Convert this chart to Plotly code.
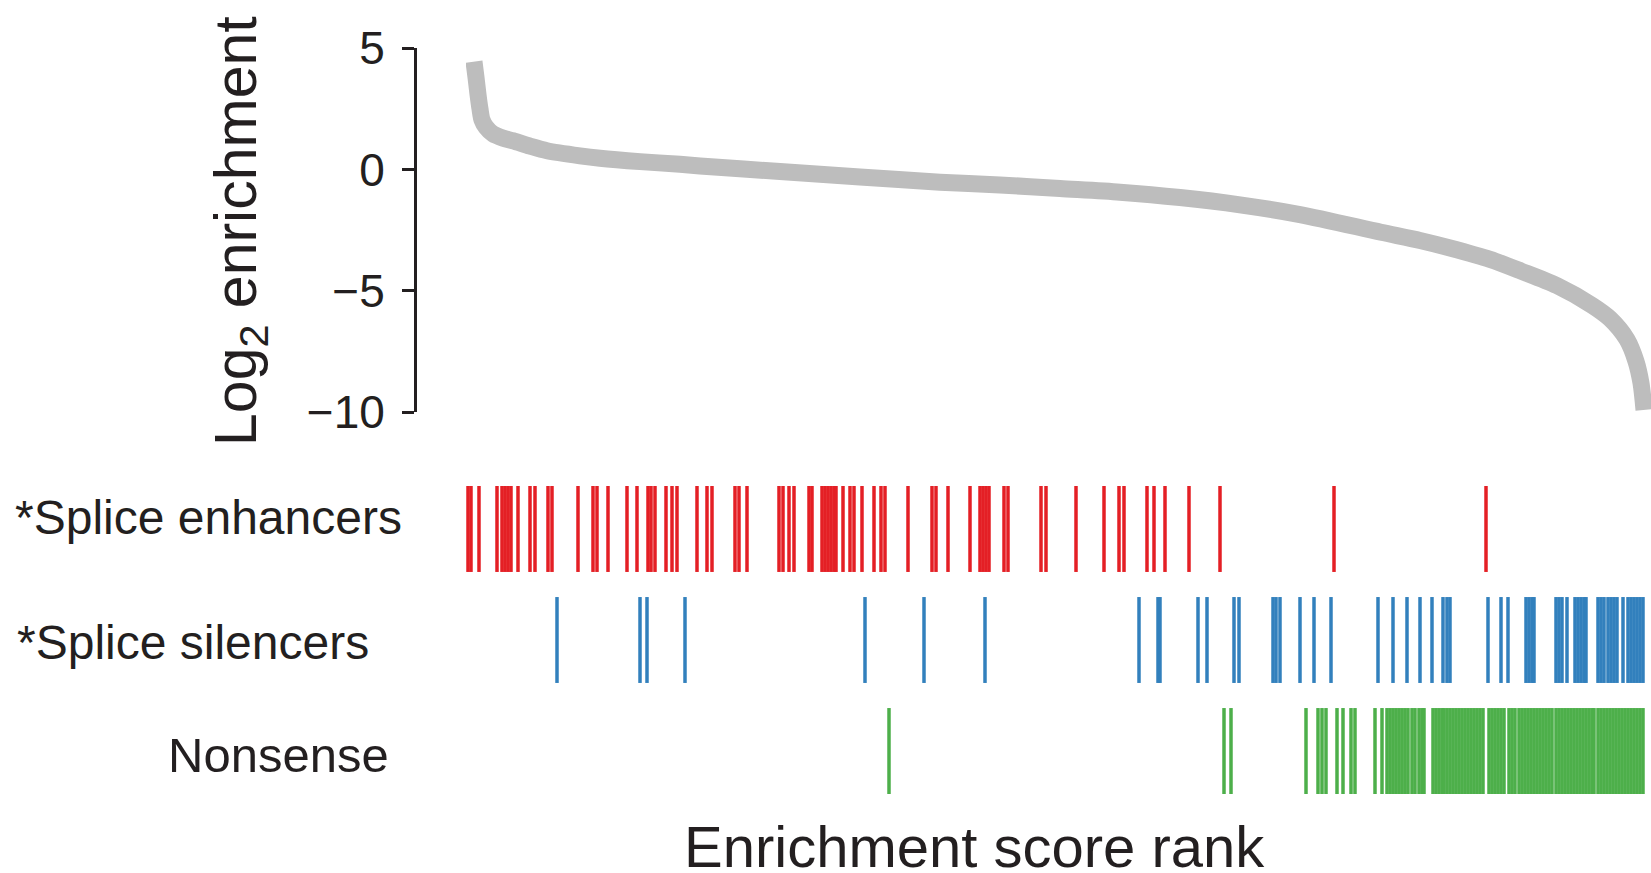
import plotly.graph_objects as go

W, H = 1651, 873
INK = "#231f20"
FONT = "Liberation Sans, Arial, Helvetica, sans-serif"

# Ranked log2 enrichment curve (rank, value)
curve_rank = [16, 20, 24, 28, 32, 40, 54, 74, 94, 128, 162, 228, 268, 348, 428,
              468, 628, 788, 948, 1068, 1188, 1308, 1428, 1548, 1668, 1830, 1908,
              1970, 2048, 2110, 2182, 2252, 2288, 2322, 2340, 2350, 2356]
curve_log2 = [4.45, 3.8, 3.1, 2.5, 2.05, 1.75, 1.47, 1.3, 1.19, 0.97, 0.78, 0.57,
              0.47, 0.33, 0.22, 0.15, -0.08, -0.3, -0.52, -0.63, -0.78, -0.93,
              -1.15, -1.45, -1.85, -2.58, -2.92, -3.24, -3.7, -4.18, -4.78, -5.59,
              -6.14, -7.0, -7.9, -8.8, -9.9]

# Ranks of variants in each annotated class
enhancer_ranks = [4, 10, 26, 62, 72, 78, 84, 90, 104, 128, 138, 164, 172, 224, 254,
                  262, 284, 322, 342, 364, 370, 378, 400, 412, 422, 462, 482, 492,
                  538, 546, 562, 626, 634, 646, 656, 686, 692, 712, 718, 724, 730,
                  736, 740, 754, 768, 776, 792, 816, 830, 838, 884, 932, 940, 964,
                  1008, 1028, 1034, 1040, 1046, 1076, 1084, 1150, 1160, 1220, 1276,
                  1306, 1316, 1362, 1376, 1398, 1446, 1508, 1736, 2040]
silencer_ranks = [182, 348, 362, 438, 798, 916, 1038, 1346, 1384, 1388, 1464, 1482,
                  1536, 1546, 1614, 1620, 1628, 1668, 1696, 1730, 1824, 1854, 1882,
                  1908, 1932, 1954, 1962, 1968, 2044, 2070, 2084, 2120, 2126, 2132,
                  2136, 2180, 2186, 2192, 2202, 2218, 2224, 2230, 2236, 2240, 2264,
                  2270, 2276, 2284, 2290, 2296, 2302, 2314, 2324, 2330, 2336, 2342,
                  2348, 2354]
nonsense_ranks = [846, 1516, 1530, 1680, 1704, 1712, 1720, 1742, 1754, 1770, 1778,
                  1818, 1832, 1842, 1848, 1854, 1860, 1866, 1872, 1878, 1884, 1892,
                  1898, 1906, 1912, 1916, 1934, 1940, 1946, 1952, 1956, 1962, 1968,
                  1974, 1980, 1986, 1992, 1998, 2004, 2010, 2016, 2022, 2028, 2034,
                  2046, 2052, 2058, 2064, 2070, 2076, 2086, 2092, 2098, 2106, 2112,
                  2118, 2124, 2130, 2136, 2142, 2148, 2154, 2160, 2166, 2172, 2180,
                  2186, 2192, 2198, 2204, 2210, 2216, 2222, 2228, 2234, 2240, 2246,
                  2252, 2256, 2264, 2270, 2276, 2282, 2288, 2294, 2300, 2306, 2312,
                  2318, 2324, 2330, 2336, 2342, 2348, 2354]

row_labels = ["*Splice enhancers", "*Splice silencers", "Nonsense"]
row_colors = ["#e41f25", "#3280bd", "#4daf4a"]
row_ranks = [enhancer_ranks, silencer_ranks, nonsense_ranks]

y_ticks = [-10, -5, 0, 5]
y_ticktext = ["\u221210", "\u22125", "0", "5"]

HALF = 0.387  # half height of a rug tick, in row units


def rug_xy(ranks, row):
    xs, ys = [], []
    for r in ranks:
        xs += [r, r, None]
        ys += [row - HALF, row + HALF, None]
    return xs, ys


fig = go.Figure()

fig.add_trace(go.Scatter(
    x=curve_rank, y=curve_log2, mode="lines",
    line=dict(color="#bdbdbd", width=17, shape="spline", smoothing=0.8),
    xaxis="x", yaxis="y", hoverinfo="skip",
))

for i, (ranks, color) in enumerate(zip(row_ranks, row_colors)):
    xs, ys = rug_xy(ranks, i)
    fig.add_trace(go.Scatter(
        x=xs, y=ys, mode="lines",
        line=dict(color=color, width=3.5),
        xaxis="x", yaxis="y2", hoverinfo="skip",
    ))

annotations = []
label_left = [13, 15, 166]
label_size = [48, 48, 49]
label_mid = [517, 642, 755]
for text, lx, fs, my in zip(row_labels, label_left, label_size, label_mid):
    annotations.append(dict(
        text=text, x=lx / W, y=1 - my / H, xref="paper", yref="paper",
        xanchor="left", yanchor="middle", showarrow=False,
        font=dict(family=FONT, size=fs, color=INK),
    ))

annotations.append(dict(
    text="Log<sub>2</sub> enrichment", textangle=-90,
    x=240 / W, y=1 - 231 / H, xref="paper", yref="paper",
    xanchor="center", yanchor="middle", showarrow=False,
    font=dict(family=FONT, size=59, color=INK),
))
annotations.append(dict(
    text="Enrichment score rank",
    x=974 / W, y=1 - 846 / H, xref="paper", yref="paper",
    xanchor="center", yanchor="middle", showarrow=False,
    font=dict(family=FONT, size=58, color=INK),
))

fig.update_layout(
    template="plotly_white",
    width=W, height=H,
    margin=dict(l=0, r=0, t=0, b=0, pad=0, autoexpand=False),
    paper_bgcolor="white", plot_bgcolor="white",
    showlegend=False,
    font=dict(family=FONT, color=INK),
    xaxis=dict(domain=[466 / W, 1], range=[0, 2370], visible=False,
               showgrid=False, zeroline=False, automargin=False),
    yaxis=dict(
        domain=[1 - 412.3 / H, 1 - 48.3 / H], range=[-10, 5],
        anchor="free", position=415 / W, automargin=False,
        showline=True, linecolor=INK, linewidth=3,
        ticks="outside", ticklen=12, tickwidth=3, tickcolor=INK,
        tickvals=y_ticks, ticktext=y_ticktext,
        tickfont=dict(family=FONT, size=46, color=INK),
        ticklabelstandoff=8,
        showgrid=False, zeroline=False,
    ),
    yaxis2=dict(
        domain=[1 - 806.5 / H, 1 - 473.5 / H], range=[2.5, -0.5],
        anchor="x", visible=False, showgrid=False, zeroline=False,
        automargin=False,
    ),
    annotations=annotations,
)

fig.write_html("out.html")
